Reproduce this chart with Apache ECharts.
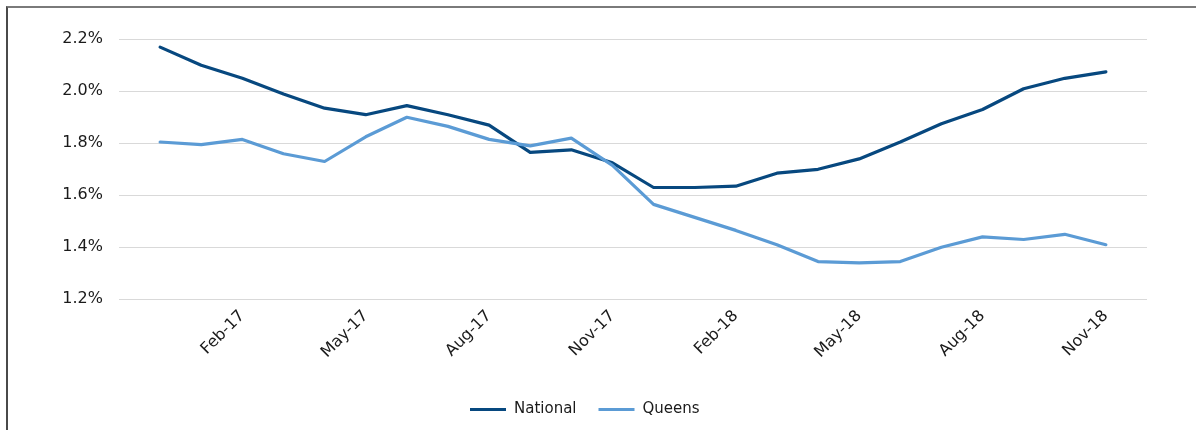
<!DOCTYPE html>
<html>
<head>
<meta charset="utf-8">
<title>National vs Queens</title>
<script src="https://cdn.jsdelivr.net/npm/echarts@6/dist/echarts.min.js"></script>
<style>
  html, body { margin: 0; padding: 0; background: #ffffff; }
  #wrap { position: relative; width: 1196px; height: 430px; overflow: hidden; }
  #frame { position: absolute; left: 6px; top: 6px; width: 1300px; height: 600px;
           border-left: 2px solid #4a4a4a; border-top: 2px solid #7a7a7a; }
  #chart { position: absolute; left: 0; top: 0; width: 1196px; height: 430px; }
</style>
</head>
<body>
<div id="wrap">
  <div id="frame"></div>
  <div id="chart"></div>
</div>
<script>
// Monthly periods, Dec-16 through Nov-18
const months = ['Dec-16','Jan-17','Feb-17','Mar-17','Apr-17','May-17','Jun-17','Jul-17','Aug-17','Sep-17','Oct-17','Nov-17',
                'Dec-17','Jan-18','Feb-18','Mar-18','Apr-18','May-18','Jun-18','Jul-18','Aug-18','Sep-18','Oct-18','Nov-18'];

// Rates in percent
const national = [2.17, 2.10, 2.05, 1.99, 1.935, 1.91, 1.945, 1.91, 1.87, 1.765, 1.775, 1.725,
                  1.63, 1.63, 1.635, 1.685, 1.70, 1.74, 1.805, 1.875, 1.93, 2.01, 2.05, 2.075];
const queens   = [1.805, 1.795, 1.815, 1.76, 1.73, 1.825, 1.90, 1.865, 1.815, 1.79, 1.82, 1.715,
                  1.565, 1.515, 1.465, 1.41, 1.345, 1.34, 1.345, 1.40, 1.44, 1.43, 1.45, 1.41];

// Y tick labels
const yTicks = [1.2, 1.4, 1.6, 1.8, 2.0, 2.2];

// Every third month gets a label, starting at Feb-17
const labelStart = 2, labelStep = 3;

const toPairs = arr => arr.map((v, i) => [i, v]);

const chart = echarts.init(document.getElementById('chart'), null, { renderer: 'canvas' });
const font = '"DejaVu Sans", "Noto Sans", sans-serif';

chart.setOption({
  backgroundColor: 'transparent',
  animation: false,
  textStyle: { fontFamily: font },
  grid: { left: 119, right: 49, top: 39.3, bottom: 130.7, containLabel: false },
  legend: {
    left: 465, top: 397,
    icon: 'rect', itemWidth: 36, itemHeight: 3, itemGap: 22,
    textStyle: { fontFamily: font, fontSize: 15, color: '#1a1a1a', padding: [0, 0, 0, 3] },
    data: ['National', 'Queens']
  },
  xAxis: {
    type: 'value',
    min: -1, max: months.length, interval: 1,
    axisLine: { show: false },
    axisTick: { show: false },
    splitLine: { show: false },
    axisLabel: {
      rotate: 45, margin: 14,
      fontFamily: font, fontSize: 16, color: '#1a1a1a',
      showMinLabel: true, showMaxLabel: true,
      formatter: v => (v >= 0 && v < months.length && (v - labelStart) % labelStep === 0) ? months[v] : ''
    }
  },
  yAxis: {
    type: 'value',
    min: yTicks[0], max: yTicks[yTicks.length - 1], interval: 0.2,
    axisLine: { show: false },
    axisTick: { show: false },
    splitLine: { lineStyle: { color: '#d9d9d9', width: 1 } },
    axisLabel: {
      margin: 16, fontFamily: font, fontSize: 16, color: '#1a1a1a',
      formatter: v => v.toFixed(1) + '%'
    }
  },
  series: [
    {
      name: 'National', type: 'line', data: toPairs(national),
      showSymbol: false, symbol: 'none',
      lineStyle: { color: '#07487f', width: 3.2, cap: 'round', join: 'round' },
      itemStyle: { color: '#07487f' }
    },
    {
      name: 'Queens', type: 'line', data: toPairs(queens),
      showSymbol: false, symbol: 'none',
      lineStyle: { color: '#5b9bd5', width: 3.2, cap: 'round', join: 'round' },
      itemStyle: { color: '#5b9bd5' }
    }
  ]
});
</script>
</body>
</html>
